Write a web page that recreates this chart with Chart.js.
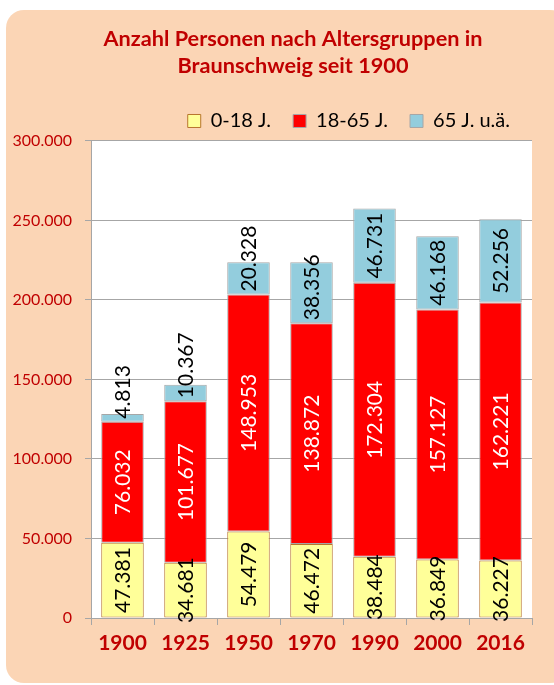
<!DOCTYPE html>
<html>
<head>
<meta charset="utf-8">
<script src="https://cdn.jsdelivr.net/npm/chart.js@4.4.1/dist/chart.umd.min.js"></script>
<style>
  html, body { margin: 0; padding: 0; background: #fff; overflow: hidden; }
  #panel { position: absolute; left: 6px; top: 10px; width: 562px; height: 673px; border-radius: 18px; background: #FBD5B5; }
  #chart { position: absolute; left: 0; top: 0; }
</style>
</head>
<body>
<div id="panel"></div>
<canvas id="chart" width="554" height="685"></canvas>
<script>
var years = ['1900', '1925', '1950', '1970', '1990', '2000', '2016'];
var under18 = [47381, 34681, 54479, 46472, 38484, 36849, 36227];
var age18to65 = [76032, 101677, 148953, 138872, 172304, 157127, 162221];
var over65 = [4813, 10367, 20328, 38356, 46731, 46168, 52256];
var yTicks = [0, 50000, 100000, 150000, 200000, 250000, 300000];

function fmt(v)
{
    return String(v).replace(/\B(?=(\d{3})+(?!\d))/g, '.');
}

var darkRed = '#C00000';
var gridGray = '#A6A6A6';

// white plot area on top of the peach panel
var plotBg = {
    id: 'plotBg',
    afterLayout: function(chart) {
        // title sits a bit right of the full width centre
        if (chart.titleBlock) chart.titleBlock.left = 54;
    },
    beforeDraw: function(chart) {
        var a = chart.chartArea;
        var ctx = chart.ctx;
        ctx.save();
        ctx.fillStyle = '#FFFFFF';
        ctx.fillRect(a.left, a.top, a.right - a.left, a.bottom - a.top);
        ctx.restore();
    }
};

// rotated value labels inside the bar segments
var barLabels = {
    id: 'barLabels',
    afterDatasetsDraw: function(chart) {
        var ctx = chart.ctx;
        var colors = ['#000000', '#FFFFFF', '#000000'];
        ctx.save();
        ctx.font = '21px Lato';
        ctx.textAlign = 'center';
        ctx.textBaseline = 'middle';
        chart.data.datasets.forEach(function(ds, di) {
            var meta = chart.getDatasetMeta(di);
            meta.data.forEach(function(bar, i) {
                var p = bar.getProps(['x', 'y', 'base'], true);
                var txt = fmt(ds.data[i]);
                var tw = ctx.measureText(txt).width;
                var top = Math.min(p.y, p.base);
                var bottom = Math.max(p.y, p.base);
                var cy = (top + bottom) / 2;
                if (di === 2 && tw > bottom - top - 4) {
                    cy = bottom - 3 - tw / 2;
                }
                ctx.save();
                ctx.translate(p.x, cy);
                ctx.rotate(-Math.PI / 2);
                ctx.fillStyle = colors[di];
                ctx.fillText(txt, 0, 1);
                ctx.restore();
            });
        });
        ctx.restore();
    }
};

new Chart(document.getElementById('chart'), {
    type: 'bar',
    data: {
        labels: years,
        datasets: [{
            label: '0-18 J.',
            data: under18,
            backgroundColor: '#FFFF99',
            borderColor: '#B8752E',
            borderWidth: 1,
            borderSkipped: false
        }, {
            label: '18-65 J.',
            data: age18to65,
            backgroundColor: '#FF0000',
            borderColor: '#A6A6A6',
            borderWidth: 1,
            borderSkipped: false
        }, {
            label: '65 J. u.ä.',
            data: over65,
            backgroundColor: '#93CDDD',
            borderColor: '#A6A6A6',
            borderWidth: 1,
            borderSkipped: false
        }]
    },
    options: {
        responsive: false,
        animation: false,
        layout: {
            padding: { top: 0, left: 0, right: 22, bottom: 0 }
        },
        datasets: {
            bar: {
                barPercentage: 0.675,
                categoryPercentage: 1
            }
        },
        plugins: {
            title: {
                display: true,
                text: ['Anzahl Personen nach Altersgruppen in', 'Braunschweig seit 1900'],
                color: darkRed,
                font: { family: 'Lato', size: 21.7, weight: 'bold', lineHeight: 1.244 },
                padding: { top: 26, bottom: 9 }
            },
            legend: {
                display: true,
                align: 'end',
                maxHeight: 58,
                labels: {
                    color: '#000000',
                    font: { family: 'Lato', size: 20 },
                    boxWidth: 13,
                    boxHeight: 13,
                    padding: 22
                }
            },
            tooltip: { enabled: false }
        },
        scales: {
            x: {
                stacked: true,
                border: { color: gridGray, width: 1 },
                grid: {
                    display: true,
                    offset: true,
                    drawOnChartArea: false,
                    color: gridGray,
                    tickLength: 7
                },
                ticks: {
                    color: darkRed,
                    font: { family: 'Lato', size: 21, weight: 'bold' },
                    padding: 6
                },
                afterFit: function(scale) { scale.height = 67; }
            },
            y: {
                stacked: true,
                min: 0,
                max: 300000,
                border: { color: gridGray, width: 1 },
                grid: {
                    color: gridGray,
                    tickLength: 6
                },
                afterBuildTicks: function(scale) {
                    scale.ticks = yTicks.map(function(v) { return { value: v }; });
                },
                ticks: {
                    color: darkRed,
                    font: { family: 'Lato', size: 16 },
                    padding: 13,
                    callback: function(v) { return fmt(v); }
                },
                afterFit: function(scale) { scale.width = 91; }
            }
        }
    },
    plugins: [plotBg, barLabels]
});
</script>
</body>
</html>
